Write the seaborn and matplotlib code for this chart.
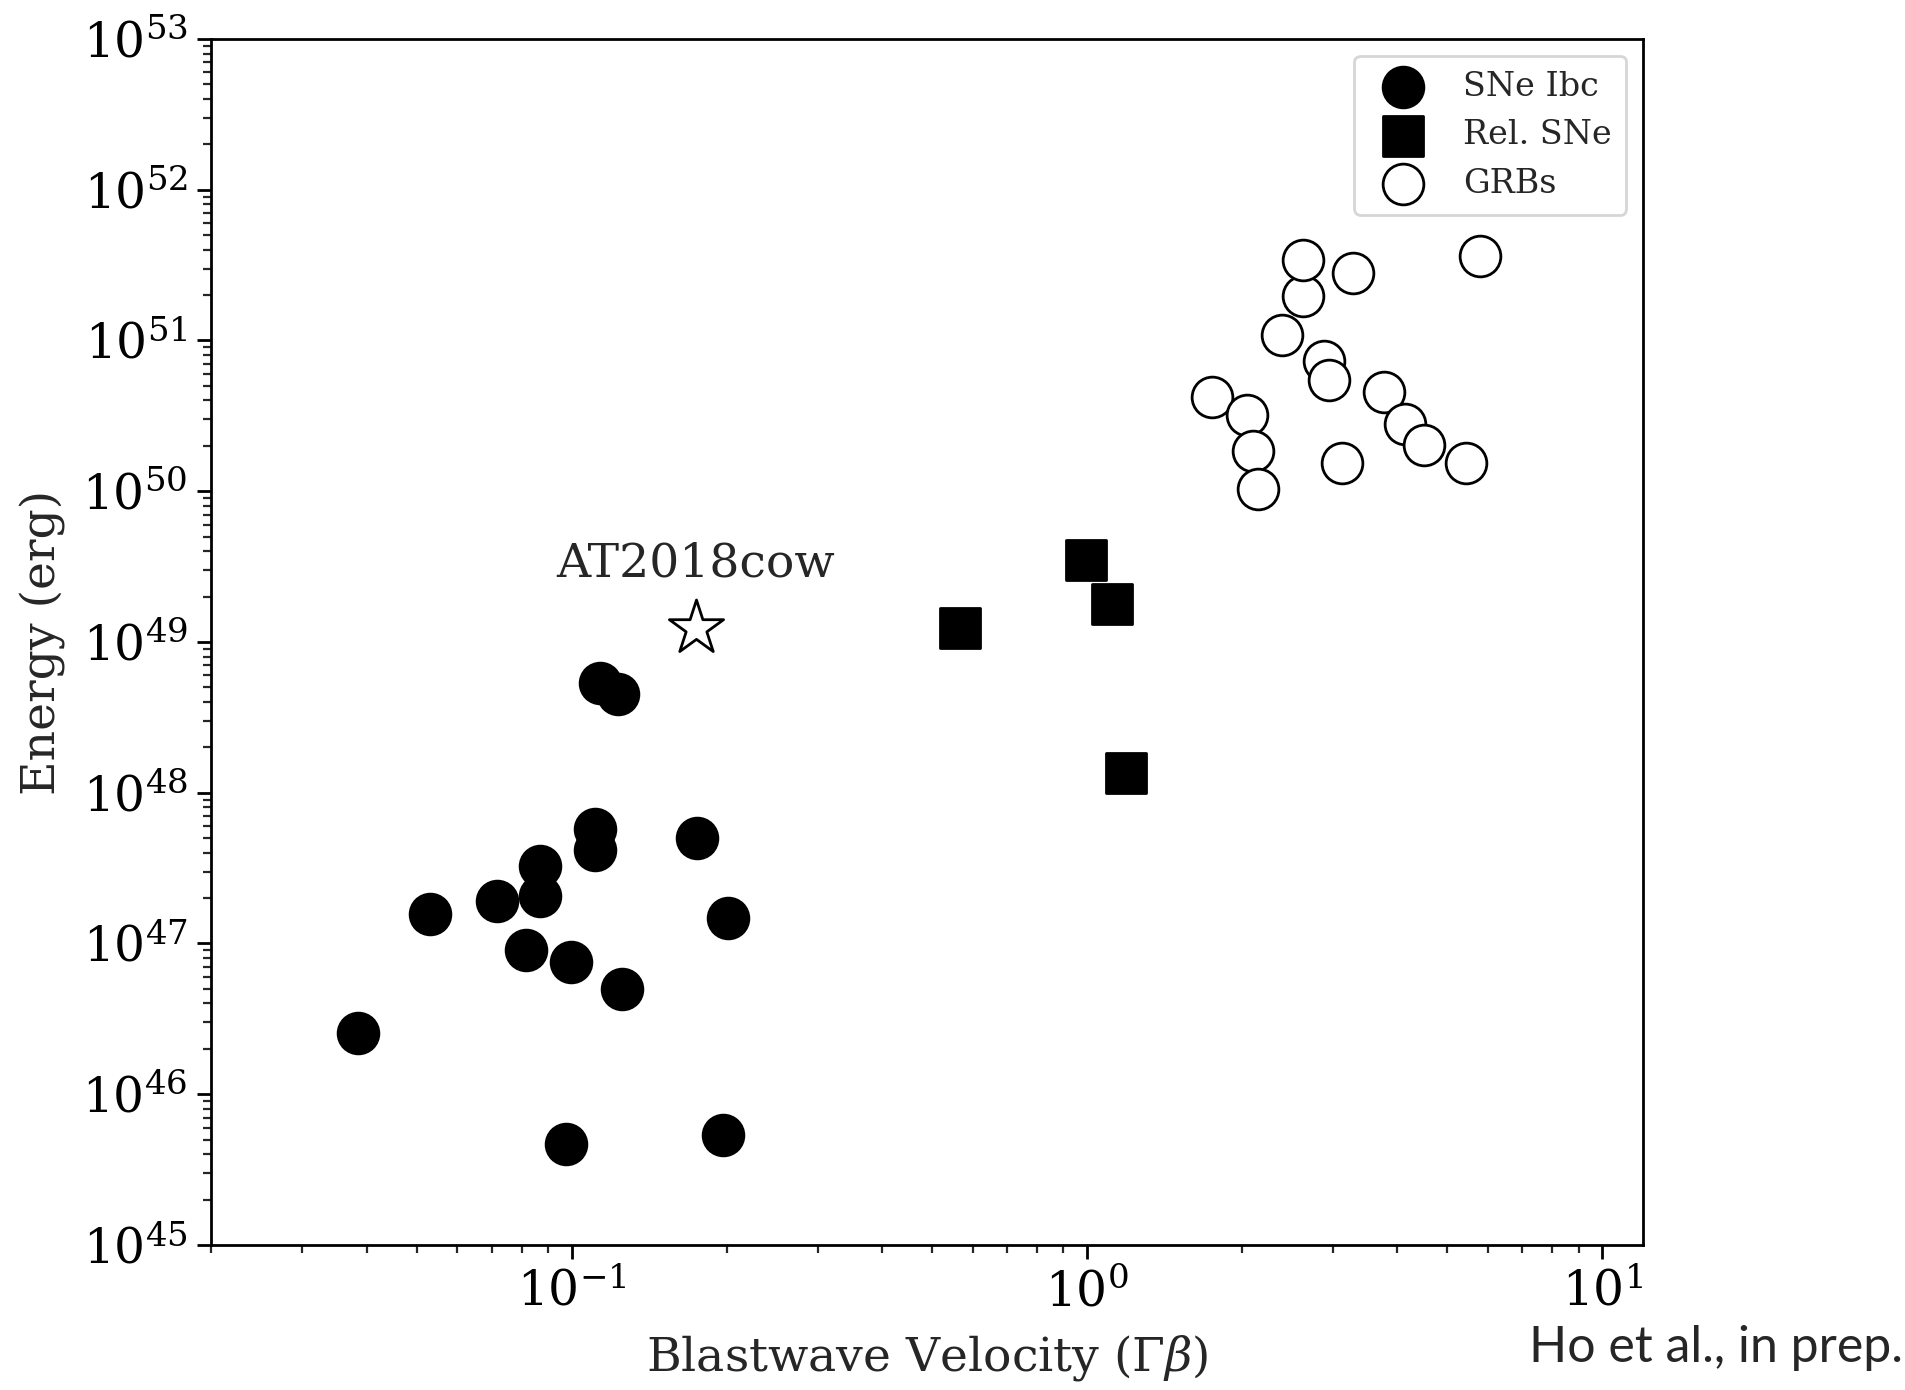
import numpy as np
import pandas as pd
import matplotlib
matplotlib.use("Agg")
import matplotlib.pyplot as plt
import seaborn as sns

# --- data ---
ibc_v = [0.0385, 0.0531, 0.0715, 0.0815, 0.087, 0.087, 0.0996, 0.0975,
         0.111, 0.111, 0.1135, 0.123, 0.125, 0.175, 0.201, 0.1965]
ibc_e = [2.56e46, 1.58e47, 1.90e47, 9.0e46, 3.25e47, 2.05e47, 7.5e46, 4.7e45,
         5.78e47, 4.2e47, 5.36e48, 4.54e48, 4.99e46, 4.99e47, 1.47e47, 5.38e45]

rel_v = [0.566, 0.996, 1.117, 1.19]
rel_e = [1.24e49, 3.49e49, 1.79e49, 1.36e48]

grb_v = [1.75, 2.04, 2.10, 2.15, 2.39, 2.62, 2.62, 2.89, 2.95, 3.29,
         3.13, 3.77, 4.14, 4.51, 5.43, 5.79]
grb_e = [4.2e50, 3.18e50, 1.86e50, 1.03e50, 1.08e51, 1.96e51, 3.42e51, 7.33e50,
         5.45e50, 2.79e51, 1.54e50, 4.53e50, 2.79e50, 2.04e50, 1.54e50, 3.61e51]

cow_v = [0.174]
cow_e = [1.24e49]
cow_label = "AT2018cow"

# --- styling ---
sns.set_theme(style="ticks")
plt.rcParams["font.family"] = ["DejaVu Serif"]
plt.rcParams["mathtext.fontset"] = "dejavuserif"

fig = plt.figure(figsize=(9.525, 6.95), dpi=200)
ax = fig.add_axes([0.111, 0.1043, 0.7515, 0.8677])

ms = 215
sns.scatterplot(x=ibc_v, y=ibc_e, ax=ax, marker="o", s=ms, color="black",
                edgecolor="black", linewidth=1.0, label="SNe Ibc", zorder=3)
sns.scatterplot(x=rel_v, y=rel_e, ax=ax, marker="s", s=ms, color="black",
                edgecolor="black", linewidth=1.0, label="Rel. SNe", zorder=3)
sns.scatterplot(x=grb_v, y=grb_e, ax=ax, marker="o", s=ms, facecolor="white",
                edgecolor="black", linewidth=1.0, label="GRBs", zorder=3)
sns.scatterplot(x=cow_v, y=cow_e, ax=ax, marker="*", s=420, facecolor="white",
                edgecolor="black", linewidth=1.0, zorder=3)
ax.annotate(cow_label, (cow_v[0], cow_e[0]), xytext=(0, 15),
            textcoords="offset points", ha="center", va="bottom", fontsize=17)

ax.set_xscale("log")
ax.set_yscale("log")
ax.set_xlim(0.02, 12)
ax.set_ylim(1e45, 1e53)

ax.set_xlabel(r"Blastwave Velocity ($\Gamma\beta$)", fontsize=17, labelpad=6)
ax.set_ylabel("Energy (erg)", fontsize=17, labelpad=6)
ax.tick_params(axis="both", which="major", labelsize=17.5, length=5, width=1,
               direction="out", colors="black")
ax.tick_params(axis="both", which="minor", length=3, width=0.8, direction="out")
for sp in ax.spines.values():
    sp.set_color("black")
    sp.set_linewidth(1.0)

leg = ax.legend(loc="upper right", fontsize=12, frameon=True, markerscale=1.0,
                handletextpad=0.8, borderpad=0.45, labelspacing=0.5,
                handlelength=2.0)
leg.get_frame().set_edgecolor("#cccccc")

fig.text(0.999, 0.03, "Ho et al., in prep.", ha="right", va="center",
         fontsize=18, family=["Lato", "DejaVu Sans"])

fig.savefig("out.png", dpi=200)
